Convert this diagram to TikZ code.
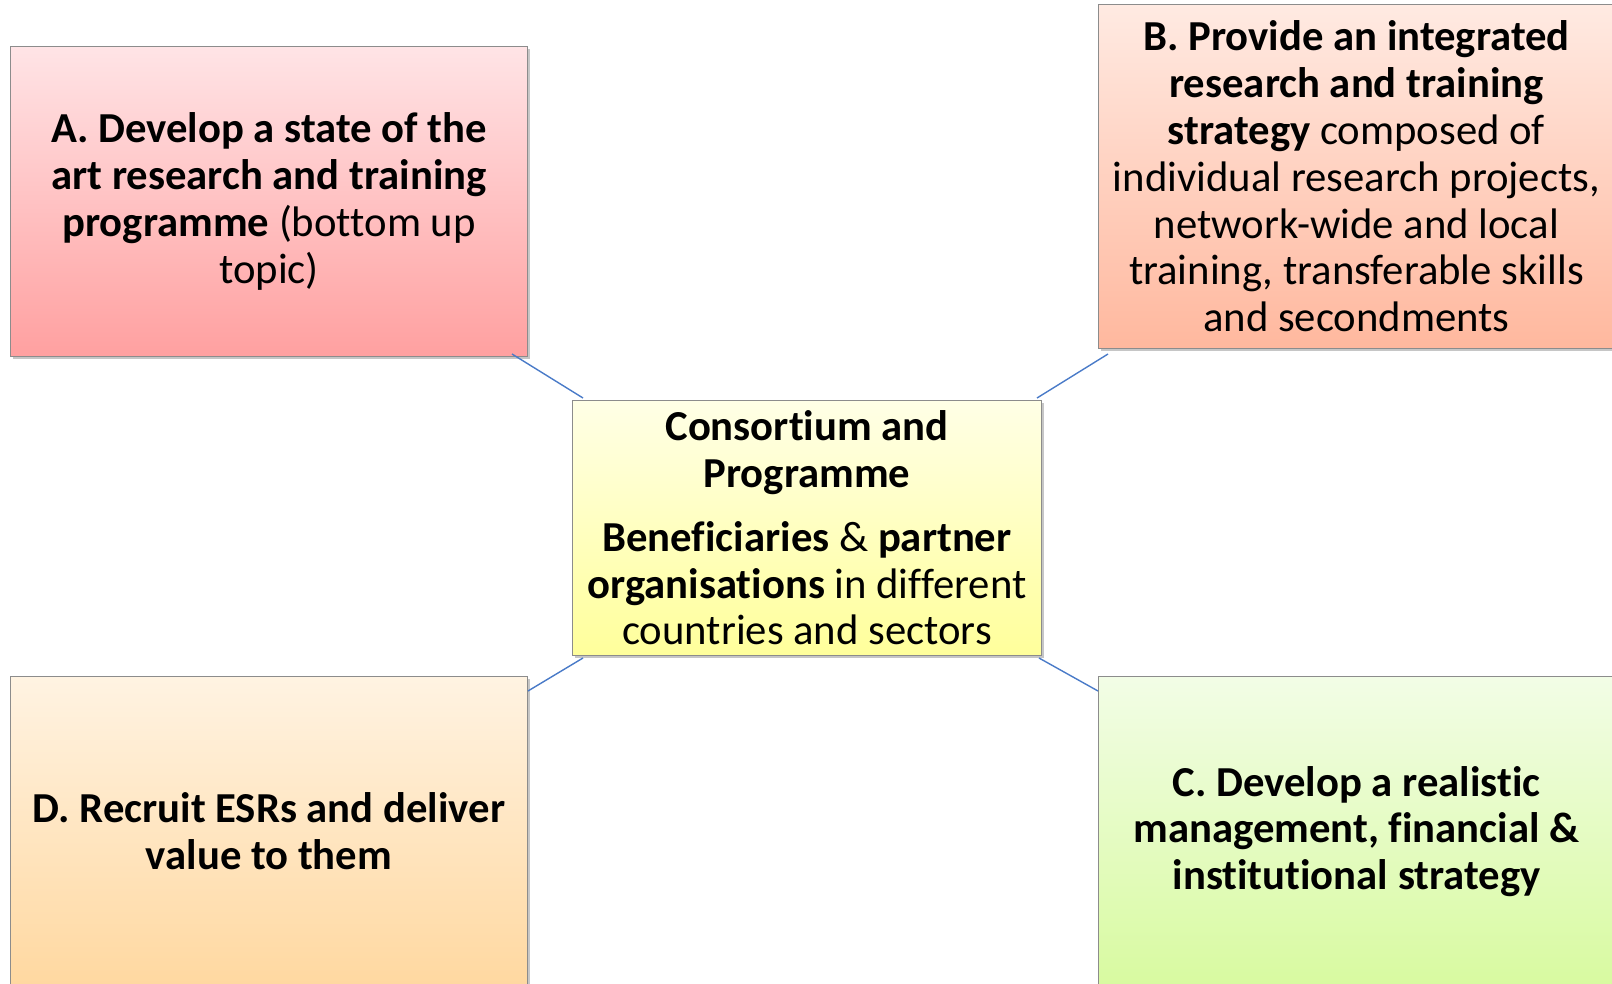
\documentclass[tikz,border=0pt]{standalone}
\usepackage{fontspec}
\setmainfont{Carlito}[Ligatures=NoCommon]
\usetikzlibrary{shadows}
\definecolor{edge}{HTML}{8C8C8C}
\definecolor{link}{HTML}{4A7BC8}
\tikzset{
  card/.style={draw=edge, line width=1pt, anchor=north west, align=center,
    inner sep=0pt, font=\fontsize{42.7}{46.8}\selectfont,
    drop shadow={shadow xshift=2.5pt, shadow yshift=-2.5pt, opacity=0.45, fill=gray}},
  conn/.style={draw=link, line width=1.4pt}
}
\begin{document}
\begin{tikzpicture}[x=1pt,y=-1pt]
\useasboundingbox (0,0) rectangle (1612,983);
\node[card, top color={rgb,255:red,255;green,228;blue,230}, bottom color={rgb,255:red,255;green,160;blue,160},
  minimum width=517pt, minimum height=310pt] (A) at (10,46)
  {\textbf{A. Develop a state of the}\\ \textbf{art research and training}\\ \textbf{programme} (bottom up\\ topic)};
\node[card, top color={rgb,255:red,255;green,234;blue,226}, bottom color={rgb,255:red,255;green,184;blue,158},
  minimum width=516pt, minimum height=344pt] (B) at (1098,4)
  {\textbf{B. Provide an integrated}\\ \textbf{research and training}\\ \textbf{strategy} composed of\\ individual research projects,\\ network-wide and local\\ training, transferable skills\\ and secondments};
\node[card, top color={rgb,255:red,255;green,255;blue,230}, bottom color={rgb,255:red,255;green,255;blue,155},
  minimum width=469pt, minimum height=255pt] (M) at (572,400)
  {\textbf{Consortium and}\\ \textbf{Programme}\\[17pt] \textbf{Beneficiaries} \& \textbf{partner}\\ \textbf{organisations} in different\\ countries and sectors};
\node[card, top color={rgb,255:red,255;green,243;blue,226}, bottom color={rgb,255:red,255;green,216;blue,160},
  minimum width=517pt, minimum height=310pt] (D) at (10,676)
  {\textbf{D. Recruit ESRs and deliver}\\ \textbf{value to them}};
\node[card, top color={rgb,255:red,242;green,253;blue,230}, bottom color={rgb,255:red,216;green,250;blue,160},
  minimum width=516pt, minimum height=310pt] (C) at (1098,676)
  {\textbf{C. Develop a realistic}\\ \textbf{management, financial \&}\\ \textbf{institutional strategy}};
\draw[conn] ([shift={(-16,-3)}]A.south east) -- ([shift={(11,-2)}]M.north west);
\draw[conn] ([shift={(10,5)}]B.south west) -- ([shift={(-5,-2)}]M.north east);
\draw[conn] ([shift={(0,15)}]D.north east) -- ([shift={(11,2)}]M.south west);
\draw[conn] ([shift={(-3,2)}]M.south east) -- ([shift={(0,15)}]C.north west);
\end{tikzpicture}
\end{document}
